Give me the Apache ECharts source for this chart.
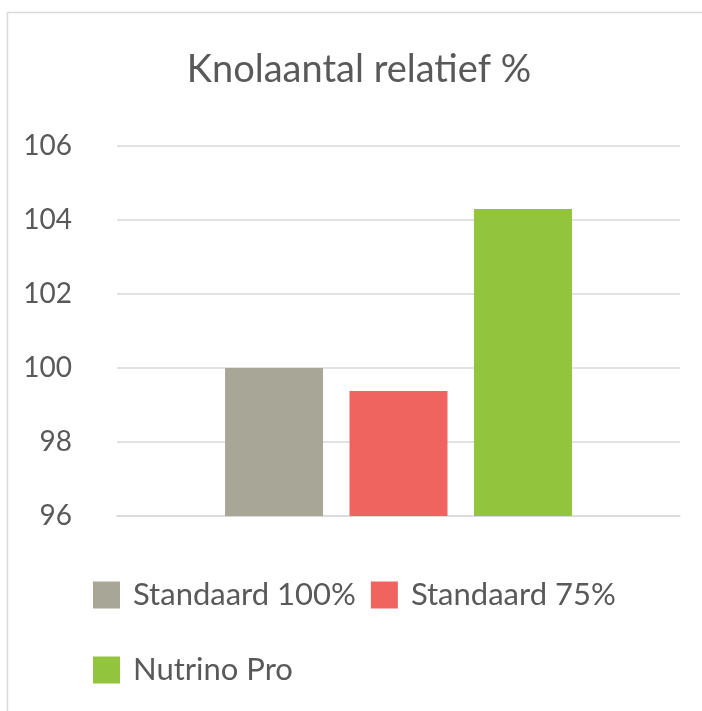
<!DOCTYPE html>
<html>
<head>
<meta charset="utf-8">
<script src="https://cdn.jsdelivr.net/npm/echarts@6/dist/echarts.min.js"></script>
<style>html,body{margin:0;padding:0;background:#fff;}#c{width:702px;height:711px;}</style>
</head>
<body>
<div id="c"></div>
<script>
const titleText = 'Knolaantal relatief %';
const categories = [''];
const seriesNames = ['Standaard 100%', 'Standaard 75%', 'Nutrino Pro'];
const seriesValues = [[100.0], [99.38], [104.3]];
const seriesColors = ['#A8A797', '#F0645F', '#92C43D'];
const yTicks = [96, 98, 100, 102, 104, 106];

const chart = echarts.init(document.getElementById('c'));
const FONT = 'Lato';
chart.setOption({
  animation: false,
  backgroundColor: '#fff',
  graphic: [{
    type: 'rect', left: 5, top: 10, silent: true,
    shape: {x: 0, y: 0, width: 900, height: 900},
    style: {fill: 'none', stroke: '#d9d9d9', lineWidth: 1.5}
  }],
  title: {
    text: titleText, left: 354, top: 46, textAlign: 'center',
    textStyle: {fontFamily: FONT, fontSize: 38, fontWeight: 'normal', color: '#595959'}
  },
  grid: {left: 117, right: 22, top: 146, bottom: 195, containLabel: false},
  xAxis: {
    type: 'category', data: categories,
    axisLine: {show: true, lineStyle: {color: '#d9d9d9', width: 1.5}},
    axisTick: {show: false}, axisLabel: {show: false}
  },
  yAxis: {
    type: 'value', min: yTicks[0], max: yTicks[yTicks.length - 1], interval: 2,
    axisLine: {show: false}, axisTick: {show: false},
    splitLine: {lineStyle: {color: '#d9d9d9', width: 1.5}},
    axisLabel: {margin: 45, fontFamily: FONT, fontSize: 28, color: '#595959'}
  },
  legend: {
    left: 93, top: 565, width: 540, itemGap: 15, itemWidth: 27, itemHeight: 27,
    icon: 'rect', padding: 0,
    textStyle: {fontFamily: FONT, fontSize: 31, color: '#595959', lineHeight: 60, padding: [0, 0, 0, 8]},
    data: seriesNames
  },
  series: seriesNames.map((n, i) => ({
    name: n, type: 'bar', data: seriesValues[i], barWidth: 98, barGap: '27%',
    itemStyle: {color: seriesColors[i]}
  }))
});
</script>
</body>
</html>
